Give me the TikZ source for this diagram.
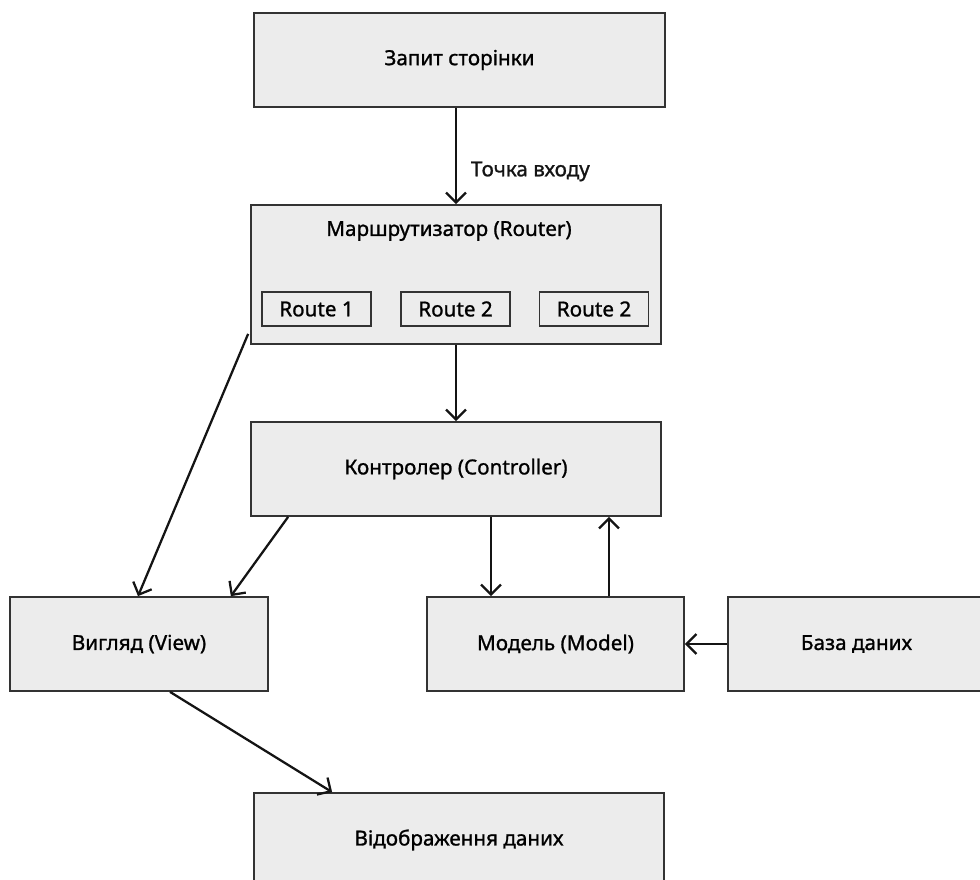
\documentclass[tikz,border=0pt]{standalone}
\usepackage{fontspec}
\setmainfont{Noto Sans}
\usetikzlibrary{arrows.meta,calc}
\definecolor{boxfill}{HTML}{ECECEC}
\definecolor{boxline}{HTML}{333333}
\newcommand{\lbl}{\fontsize{15.5}{18}\selectfont\addfontfeature{FakeBold=1.1}}
\begin{document}
\begin{tikzpicture}[x=0.75pt,y=-0.75pt,
  box/.style={draw=boxline,fill=boxfill,line width=1.3pt,inner sep=0pt,font=\lbl},
  routebox/.style={draw=boxline,fill=boxfill,line width=1.1pt,inner sep=0pt,font=\lbl,
    minimum width=109*0.75pt,minimum height=34*0.75pt},
  arr/.style={-{Straight Barb[length=7.5pt,width=15pt,line width=1.7pt]},line width=1.7pt,black!92}]
\useasboundingbox (0,0) rectangle (980,879);

% boxes
\node[box,minimum width=411*0.75pt,minimum height=94*0.75pt] (req) at (459.5,60) {Запит сторінки};
\node[box,minimum width=410*0.75pt,minimum height=139*0.75pt] (router) at (456,274.5) {};
\node[font=\lbl] (rtitle) at (449,231) {Маршрутизатор (Router)};
\node[routebox] (r1) at (316.5,309) {Route 1};
\node[routebox] (r2) at (455.5,309) {Route 2};
\node[routebox] (r3) at (594,309) {Route 2};
\node[box,minimum width=410*0.75pt,minimum height=94*0.75pt] (ctrl) at (456,469) {Контролер (Controller)};
\node[box,minimum width=258*0.75pt,minimum height=94*0.75pt] (view) at (139,644) {Вигляд (View)};
\node[box,minimum width=257*0.75pt,minimum height=94*0.75pt] (model) at (555.5,644) {Модель (Model)};
\node[box,minimum width=257*0.75pt,minimum height=94*0.75pt] (db) at (856.5,644) {База даних};
\node[box,minimum width=410*0.75pt,minimum height=94*0.75pt] (disp) at (459,840) {Відображення даних};

% connectors
\draw[arr] (router.north |- req.south) -- node[right,pos=0.66,xshift=7pt,font=\lbl] {Точка входу} (router.north);
\draw[arr] (router.south) -- (ctrl.north);
\draw[arr] ($(router.south west)+(-2,-11)$) -- ($(view.north)+(-1,0)$);
\draw[arr] ($(ctrl.south west)+(38,0)$) -- ($(view.north east)+(-38,0)$);
\draw[arr] ($(ctrl.south)+(35,0)$) -- ($(model.north)+(-64.5,0)$);
\draw[arr] ($(model.north)+(53.5,0)$) -- ($(ctrl.south)+(153,0)$);
\draw[arr] (db.west) -- (model.east);
\draw[arr] ($(view.south)+(31,0)$) -- ($(disp.north west)+(79,0)$);
\end{tikzpicture}
\end{document}
